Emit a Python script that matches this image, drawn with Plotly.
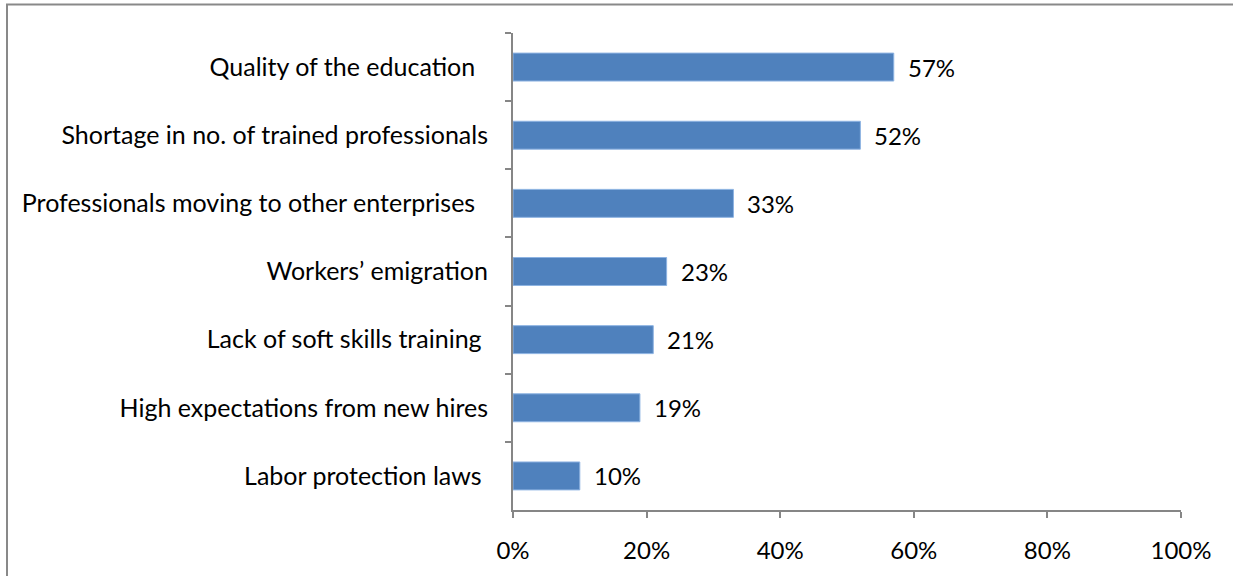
import plotly.graph_objects as go

# Survey results: main causes of the skills gap (share of respondents)
categories = [
    "Quality of the education\u00a0\u00a0",
    "Shortage in no. of trained professionals",
    "Professionals moving to other enterprises\u00a0\u00a0",
    "Workers\u2019 emigration",
    "Lack of soft skills training\u00a0",
    "High expectations from new hires",
    "Labor protection laws\u00a0",
]
values = [57, 52, 33, 23, 21, 19, 10]
value_labels = ["57%", "52%", "33%", "23%", "21%", "19%", "10%"]
x_ticks = [0, 20, 40, 60, 80, 100]
x_tick_labels = ["0%", "20%", "40%", "60%", "80%", "100%"]

FONT = "Lato"
AXIS_GREY = "#868686"
W, H = 1233, 576
L, R, T, B = 513, 52, 33, 64

fig = go.Figure()
fig.add_trace(go.Bar(
    x=values,
    y=categories,
    orientation="h",
    width=0.41,
    marker=dict(color="#4F81BD", line=dict(color="#8DB3E2", width=1)),
    hoverinfo="skip",
))

# value labels to the right of each bar
for cat, v, lab in zip(categories, values, value_labels):
    fig.add_annotation(
        x=v, y=cat, text=lab, showarrow=False,
        xanchor="left", yanchor="middle", xshift=12,
        font=dict(family=FONT, size=24, color="black"),
    )

# chart frame (top and left edges)
pw, ph = W - L - R, H - T - B
fx0 = (7 - L) / pw
fy1 = 1 + (T - 4.5) / ph
fig.add_shape(
    type="path", xref="paper", yref="paper",
    path=f"M {fx0} -0.3 L {fx0} {fy1} L {(W + 5 - L) / pw} {fy1}",
    line=dict(color="#898989", width=2),
)

fig.update_layout(
    width=W, height=H,
    margin=dict(l=L, r=R, t=T, b=B, pad=0),
    paper_bgcolor="white", plot_bgcolor="white",
    showlegend=False,
    font=dict(family=FONT, size=24, color="black"),
    xaxis=dict(
        range=[0, 100], tickvals=x_ticks, ticktext=x_tick_labels,
        showgrid=False, zeroline=False,
        showline=True, linecolor=AXIS_GREY, linewidth=2,
        ticks="outside", ticklen=6, tickwidth=2, tickcolor=AXIS_GREY,
        ticklabelstandoff=12,
        tickfont=dict(family=FONT, size=24, color="black"),
    ),
    yaxis=dict(
        autorange="reversed",
        showgrid=False, zeroline=False,
        showline=True, linecolor=AXIS_GREY, linewidth=2,
        ticks="outside", ticklen=6, tickwidth=2, tickcolor=AXIS_GREY,
        tickson="boundaries",
        ticklabelstandoff=18,
        tickfont=dict(family=FONT, size=25, color="black"),
    ),
)

fig.write_html("out.html")
